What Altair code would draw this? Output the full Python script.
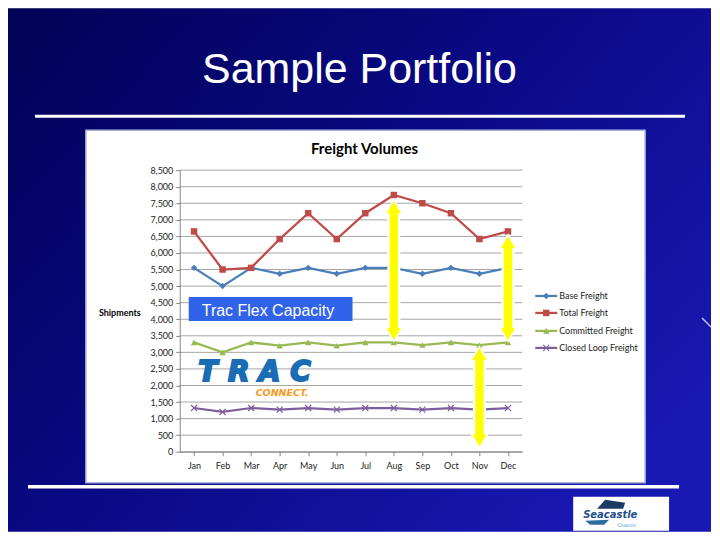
import altair as alt
import pandas as pd

# ---------------- data ----------------
months = ["Jan", "Feb", "Mar", "Apr", "May", "Jun", "Jul", "Aug", "Sep", "Oct", "Nov", "Dec"]
series_names = ["Base Freight", "Total Freight", "Committed Freight", "Closed Loop Freight"]
base_freight = [5550, 5000, 5550, 5370, 5550, 5370, 5550, 5550, 5370, 5550, 5370, 5550]
total_freight = [6650, 5500, 5550, 6420, 7200, 6420, 7200, 7750, 7500, 7200, 6420, 6650]
committed_freight = [3300, 3000, 3300, 3200, 3300, 3200, 3300, 3300, 3220, 3300, 3220, 3300]
closed_loop_freight = [1320, 1200, 1320, 1270, 1320, 1270, 1320, 1320, 1270, 1320, 1270, 1320]
y_ticks = [0, 500, 1000, 1500, 2000, 2500, 3000, 3500, 4000, 4500,
           5000, 5500, 6000, 6500, 7000, 7500, 8000, 8500]
arrow_months = ["Aug", "Dec", "Nov"]
arrow_top = [7600, 6550, 3170]
arrow_bottom = [3330, 3330, 120]

colors = ["#4a7ebb", "#be4b48", "#98b954", "#7d5fa0"]

rows = []
for name, vals in zip(series_names, [base_freight, total_freight, committed_freight, closed_loop_freight]):
    for m, v in zip(months, vals):
        rows.append({"month": m, "series": name, "value": v})
df = pd.DataFrame(rows)
arrows = pd.DataFrame({"month": arrow_months, "value": arrow_top, "bottom": arrow_bottom})
grid_df = pd.DataFrame({"value": y_ticks})
one = pd.DataFrame({"k": [0]})

W, H = 343, 282
FONT = "Lato"

x_enc = alt.X("month:N", sort=months,
              scale=alt.Scale(type="point", padding=0.5),
              axis=alt.Axis(labelAngle=0, grid=False, domainColor="#868686", tickColor="#868686",
                            tickSize=4, labelFont=FONT, labelFontSize=9, labelColor="#222222",
                            labelPadding=6, zindex=1),
              title=None)
y_scale = alt.Scale(domain=[0, 8500], nice=False)
y_axis = alt.Axis(values=y_ticks, format=",.0f", grid=False, domainColor="#868686", tickColor="#868686",
                  tickSize=4, labelFont=FONT, labelFontSize=9, labelColor="#222222",
                  labelPadding=3, zindex=1)
y_enc = alt.Y("value:Q", scale=y_scale, axis=y_axis, title=None)

# ---------------- slide decorations ----------------
bg = alt.Chart(one).mark_rect(
    fill=alt.LinearGradient(
        gradient="linear",
        stops=[alt.GradientStop(offset=0, color="#020256"),
               alt.GradientStop(offset=0.45, color="#08087f"),
               alt.GradientStop(offset=1, color="#1818b2")],
        x1=0, y1=0, x2=1, y2=0.7)
).encode(x=alt.value(-172), x2=alt.value(532), y=alt.value(-162), y2=alt.value(362))

title = alt.Chart(one).mark_text(
    text="Sample Portfolio", font="Liberation Sans", fontSize=43, color="white",
    align="center", baseline="alphabetic"
).encode(x=alt.value(180), y=alt.value(-87))

line_top = alt.Chart(one).mark_rule(color="white", strokeWidth=3).encode(
    x=alt.value(-145), x2=alt.value(506), y=alt.value(-54))
line_bottom = alt.Chart(one).mark_rule(color="white", strokeWidth=3.5).encode(
    x=alt.value(-152), x2=alt.value(500), y=alt.value(317))
diag = alt.Chart(one).mark_rule(color="#c8c0f8", strokeWidth=1.5).encode(
    x=alt.value(523), x2=alt.value(532), y=alt.value(148), y2=alt.value(157))

box = alt.Chart(one).mark_rect(fill="white", stroke="#a9b3dc", strokeWidth=1.5).encode(
    x=alt.value(-94), x2=alt.value(466), y=alt.value(-40), y2=alt.value(313))

chart_title = alt.Chart(one).mark_text(
    text="Freight Volumes", font=FONT, fontSize=15, fontWeight="bold", color="black",
    align="center", baseline="alphabetic"
).encode(x=alt.value(185), y=alt.value(-16))

ytitle = alt.Chart(one).mark_text(
    text="Shipments", font=FONT, fontSize=9, fontWeight="bold", color="black",
    align="center", baseline="alphabetic"
).encode(x=alt.value(-60), y=alt.value(146))

grid = alt.Chart(grid_df).mark_rule(color="#a6a6a6", strokeWidth=1).encode(
    y=y_enc, x=alt.value(0), x2=alt.value(W))

trac_box = alt.Chart(one).mark_rect(fill="#3162ea").encode(
    x=alt.value(9), x2=alt.value(173), y=alt.value(127), y2=alt.value(151))
trac_text = alt.Chart(one).mark_text(
    text="Trac Flex Capacity", font="Liberation Sans", fontSize=16, color="white",
    align="left", baseline="alphabetic"
).encode(x=alt.value(22), y=alt.value(146))

# TRAC CONNECT logo drawn as text; a stroke gives the heavy look
logo_layers = []
for letter, lx in zip(["T", "R", "A", "C"], [28, 59, 90, 121]):
    logo_layers.append(alt.Chart(one).mark_text(
        text=letter, font="DejaVu Sans", fontSize=28, fontWeight="bold", fontStyle="italic",
        color="#1a6db5", stroke="#1a6db5", strokeWidth=2, align="center", baseline="alphabetic"
    ).encode(x=alt.value(lx), y=alt.value(211)))
logo_layers.append(alt.Chart(one).mark_text(
    text="CONNECT.", font="DejaVu Sans", fontSize=9.5, fontWeight="bold", fontStyle="italic",
    color="#f59a23", align="left", baseline="alphabetic"
).encode(x=alt.value(76), y=alt.value(226)))

sea_box = alt.Chart(one).mark_rect(fill="white").encode(
    x=alt.value(394), x2=alt.value(490), y=alt.value(327), y2=alt.value(361))
sea_ship = alt.Chart(one).mark_point(
    shape="M-14,4L-6,-5L14,-2L12,4Z", size=4, filled=True, color="#1b3a66", opacity=1
).encode(x=alt.value(432), y=alt.value(335))
sea_swoosh = alt.Chart(one).mark_point(
    shape="M-12,-1L12,-2L7,3L-7,3Z", size=4, filled=True, color="#2a6ea0", opacity=1
).encode(x=alt.value(418), y=alt.value(352))
sea_text = alt.Chart(one).mark_text(
    text="Seacastle", font="DejaVu Sans", fontSize=10, fontWeight="bold", fontStyle="italic",
    color="#1c4f8a", align="left", baseline="alphabetic"
).encode(x=alt.value(404), y=alt.value(348))
sea_small = alt.Chart(one).mark_text(
    text="Chassis", font="DejaVu Sans", fontSize=5, color="#4aa0c0",
    align="left", baseline="alphabetic"
).encode(x=alt.value(438), y=alt.value(357))

# ---------------- data marks ----------------
color_enc = alt.Color("series:N", scale=alt.Scale(domain=series_names, range=colors), legend=None)

lines = alt.Chart(df).mark_line(strokeWidth=2.25).encode(
    x=x_enc, y=y_enc, color=color_enc)

filled_pts = alt.Chart(df[df.series != series_names[3]]).mark_point(
    filled=True, size=42, opacity=1
).encode(
    x=x_enc, y=y_enc, color=color_enc,
    shape=alt.Shape("series:N", scale=alt.Scale(domain=series_names[:3],
                                                 range=["diamond", "square", "triangle-up"]),
                    legend=None))

XPATH = "M-1,-1L1,1M1,-1L-1,1"
x_pts = alt.Chart(df[df.series == series_names[3]]).mark_point(
    shape=XPATH, size=36, filled=False, strokeWidth=1.2, color=colors[3], opacity=1
).encode(x=x_enc, y=y_enc)

# ---------------- arrows ----------------
shaft_white = alt.Chart(arrows).mark_rule(color="white", strokeWidth=13, yOffset=12, y2Offset=-12).encode(
    x=x_enc, y=y_enc, y2="bottom:Q")
head_up = alt.Chart(arrows).mark_point(
    shape="M0,0L8.5,14L-8.5,14Z", size=4, filled=True, color="#ffff00", fill="#ffff00",
    stroke="white", strokeWidth=1.5, opacity=1
).encode(x=x_enc, y=y_enc)
head_down = alt.Chart(arrows).mark_point(
    shape="M0,0L8.5,-14L-8.5,-14Z", size=4, filled=True, color="#ffff00", fill="#ffff00",
    stroke="white", strokeWidth=1.5, opacity=1
).encode(x=x_enc, y=alt.Y("bottom:Q", scale=y_scale, axis=y_axis, title=None))
shaft_yellow = alt.Chart(arrows).mark_rule(color="#ffff00", strokeWidth=8.5, yOffset=11, y2Offset=-11).encode(
    x=x_enc, y=y_enc, y2="bottom:Q")

# ---------------- legend ----------------
legend_layers = []
legend_rows = [126, 143, 161, 178]
marker_shapes = ["diamond", "square", "triangle-up", XPATH]
for name, col, ly, shp in zip(series_names, colors, legend_rows, marker_shapes):
    legend_layers.append(alt.Chart(one).mark_rule(color=col, strokeWidth=2.25).encode(
        x=alt.value(356), x2=alt.value(378), y=alt.value(ly)))
    if shp == XPATH:
        legend_layers.append(alt.Chart(one).mark_point(
            shape=shp, size=36, filled=False, strokeWidth=1.2, color=col, opacity=1
        ).encode(x=alt.value(367), y=alt.value(ly)))
    else:
        legend_layers.append(alt.Chart(one).mark_point(
            shape=shp, size=42, filled=True, color=col, opacity=1
        ).encode(x=alt.value(367), y=alt.value(ly)))
    legend_layers.append(alt.Chart(one).mark_text(
        text=name, font=FONT, fontSize=9, color="#222222", align="left", baseline="middle"
    ).encode(x=alt.value(380), y=alt.value(ly)))

chart = alt.layer(
    bg, title, line_top, line_bottom, diag, box, chart_title, ytitle, grid,
    trac_box, trac_text, *logo_layers, sea_box, sea_ship, sea_swoosh, sea_text, sea_small,
    lines, filled_pts, x_pts,
    shaft_white, head_up, head_down, shaft_yellow,
    *legend_layers
).properties(width=W, height=H, padding=0).configure_view(stroke=None)

chart.save("out.html", embed_options={"renderer": "svg", "actions": False})
